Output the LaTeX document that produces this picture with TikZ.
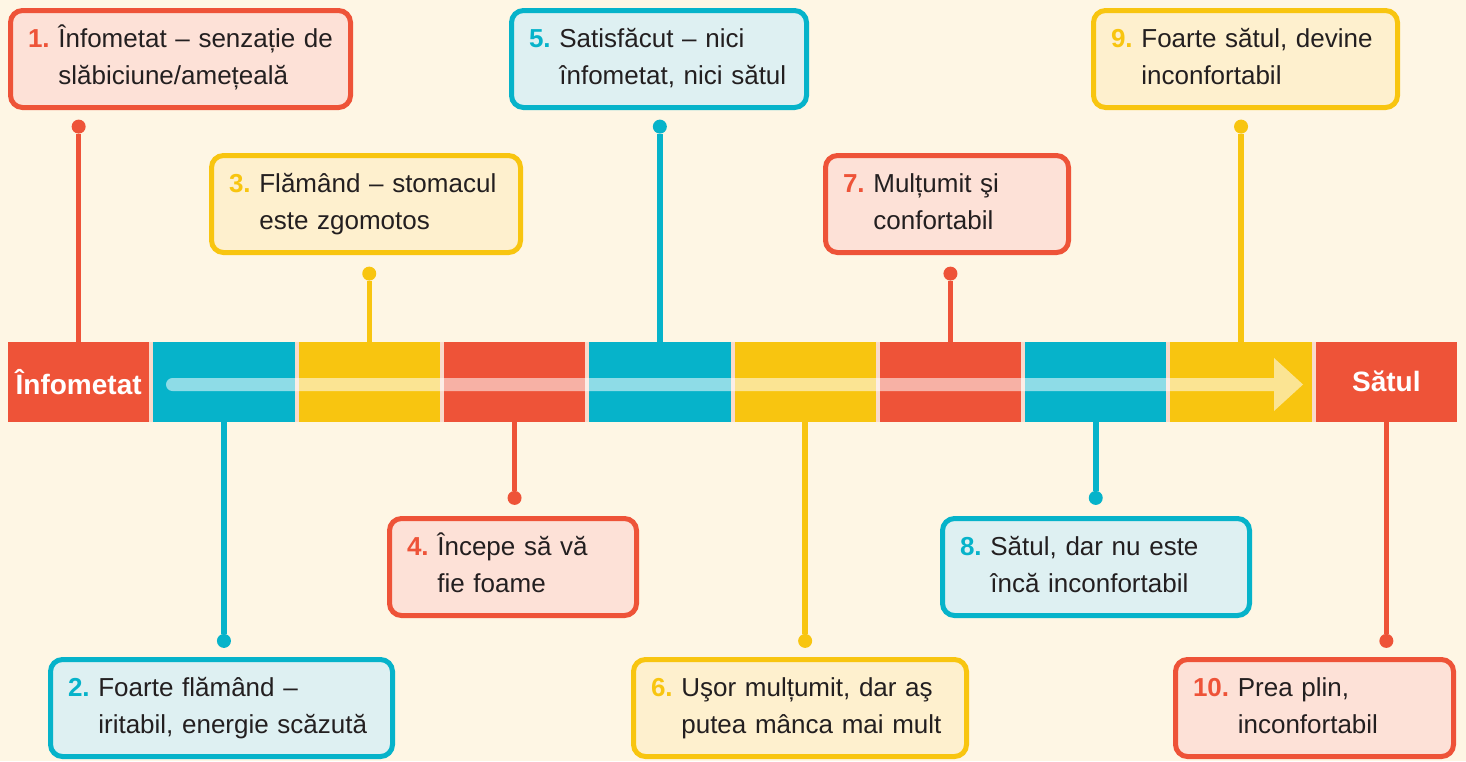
\documentclass[tikz,border=0pt]{standalone}
\usepackage{fontspec}
\setmainfont{Liberation Sans}
\usetikzlibrary{positioning}

\definecolor{hred}{HTML}{EE5338}
\definecolor{hcyan}{HTML}{06B3CA}
\definecolor{hyellow}{HTML}{F8C510}
\definecolor{hredlight}{HTML}{FDE1D7}
\definecolor{hcyanlight}{HTML}{DEF0F2}
\definecolor{hyellowlight}{HTML}{FEF0CE}
\definecolor{cream}{HTML}{FEF6E4}
\definecolor{gapcol}{HTML}{F9DACB}
\definecolor{ink}{HTML}{231F20}

\newcommand{\cardtext}[4]{%
  \begin{tabular}{@{}l@{\ }l@{}}\textcolor{#1}{\bfseries #2} & #3\\ & #4\end{tabular}}

\begin{document}
\begin{tikzpicture}[x=1pt, y=-1pt,
  segbox/.style={rectangle, inner sep=0pt, minimum width=141.3pt, minimum height=79.5pt},
  barlabel/.style={text=white, font=\fontsize{28}{30}\selectfont\bfseries},
  dot/.style={circle, inner sep=0pt, minimum size=14pt},
  stem/.style={line width=5.5pt},
  card/.style 2 args={draw=#1, fill=#2, line width=5pt, rounded corners=12pt,
    anchor=north west, minimum height=97pt, inner xsep=17.5pt, inner ysep=0pt,
    align=left, text=ink, font=\fontsize{26}{37}\selectfont}]

% === Background ===
\fill[cream] (0,0) rectangle (1466,761);
\useasboundingbox (0,0) rectangle (1466,761);
\fill[gapcol] (8,342) rectangle (1457,421.5);

% === Bar segments ===
\foreach \i/\c in {1/hred,2/hcyan,3/hyellow,4/hred,5/hcyan,6/hyellow,7/hred,8/hcyan,9/hyellow,10/hred}{
  \node[segbox, fill=\c] (seg-\i) at ({78.65+145.3*(\i-1)},381.75) {};
}

% === Arrow across the bar ===
\coordinate (ArrowStart) at (166,384.5);
\coordinate (ArrowTip) at (1303,384.5);
\fill[white, opacity=0.55] (172.5,378) arc[start angle=90, end angle=270, radius=6.5pt]
  -- (1274,391) -- (1274,411) -- (ArrowTip) -- (1274,358) -- (1274,378) -- cycle;

\node[barlabel] (startlabel) at (seg-1) {Înfometat};
\node[barlabel] (endlabel) at (seg-10) {Sătul};

% === Stems above ===
\foreach \i/\c/\len in {1/hred/208,3/hyellow/61,5/hcyan/208,7/hred/61,9/hyellow/208}{
  \node[dot, fill=\c, above=\len pt of seg-\i] (dot-\i) {};
  \draw[stem, draw=\c] (seg-\i) -- (dot-\i);
}

% === Stems below ===
\foreach \i/\c/\len in {2/hcyan/212,4/hred/69,6/hyellow/212,8/hcyan/69,10/hred/212}{
  \node[dot, fill=\c, below=\len pt of seg-\i] (dot-\i) {};
  \draw[stem, draw=\c] (seg-\i) -- (dot-\i);
}

% === Cards ===
\node[card={hred}{hredlight}, text width=305pt] (note-1) at (8,8)
  {\cardtext{hred}{1.}{Înfometat – senzație de}{slăbiciune/amețeală}};
\node[card={hcyan}{hcyanlight}, text width=307pt] (note-2) at (48,657)
  {\cardtext{hcyan}{2.}{Foarte flămând –}{iritabil, energie scăzută}};
\node[card={hyellow}{hyellowlight}, text width=274pt] (note-3) at (209,153)
  {\cardtext{hyellow}{3.}{Flămând – stomacul}{este zgomotos}};
\node[card={hred}{hredlight}, text width=212pt] (note-4) at (387,516)
  {\cardtext{hred}{4.}{Începe să vă}{fie foame}};
\node[card={hcyan}{hcyanlight}, text width=260pt] (note-5) at (509,8)
  {\cardtext{hcyan}{5.}{Satisfăcut – nici}{înfometat, nici sătul}};
\node[card={hyellow}{hyellowlight}, text width=298pt] (note-6) at (631,657)
  {\cardtext{hyellow}{6.}{Uşor mulțumit, dar aş}{putea mânca mai mult}};
\node[card={hred}{hredlight}, text width=208pt] (note-7) at (823,153)
  {\cardtext{hred}{7.}{Mulțumit şi}{confortabil}};
\node[card={hcyan}{hcyanlight}, text width=272pt] (note-8) at (940,516)
  {\cardtext{hcyan}{8.}{Sătul, dar nu este}{încă inconfortabil}};
\node[card={hyellow}{hyellowlight}, text width=269pt] (note-9) at (1091,8)
  {\cardtext{hyellow}{9.}{Foarte sătul, devine}{inconfortabil}};
\node[card={hred}{hredlight}, text width=243pt] (note-10) at (1173,657)
  {\cardtext{hred}{10.}{Prea plin,}{inconfortabil}};
\end{tikzpicture}
\end{document}
